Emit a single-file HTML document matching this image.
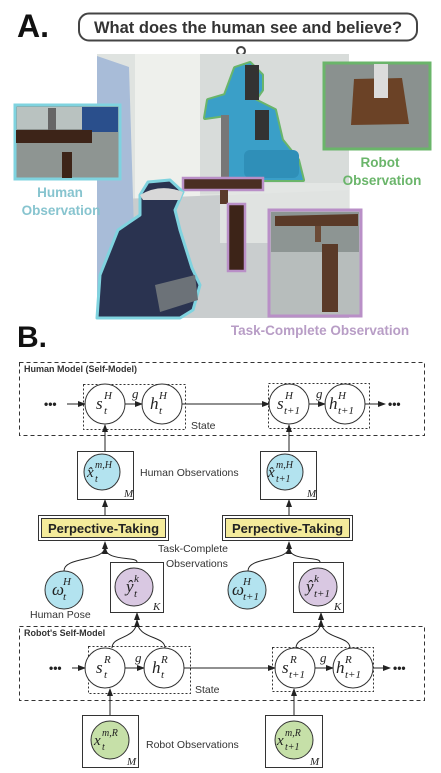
<!DOCTYPE html>
<html><head><meta charset="utf-8"><style>
html,body{margin:0;padding:0;background:#fff;}
svg{display:block;}
.sf{font-family:"Liberation Sans",sans-serif;}
.m{font-family:"Liberation Serif",serif;font-style:italic;}
</style></head><body>
<svg width="441" height="773" viewBox="0 0 441 773" xmlns="http://www.w3.org/2000/svg">
<defs>
<marker id="ar" markerWidth="8" markerHeight="6" refX="7" refY="3" orient="auto" markerUnits="userSpaceOnUse"><path d="M0,0 L8,3 L0,6 Z" fill="#222"/></marker>
</defs>
<!-- Part A -->
<text x="17" y="37" class="sf" font-size="32" font-weight="bold" fill="#111">A.</text>
<rect x="79" y="13.5" width="338" height="27" rx="10" fill="#fff" stroke="#444" stroke-width="2"/>
<text x="248" y="33" class="sf" font-size="16.5" font-weight="bold" fill="#333" text-anchor="middle">What does the human see and believe?</text>
<circle cx="241" cy="51" r="4" fill="none" stroke="#444" stroke-width="2"/>
<rect x="97" y="54" width="252" height="264" fill="#dfe3e0"/>
<rect x="135" y="54" width="65" height="200" fill="#eef0ec"/>
<rect x="200" y="54" width="149" height="140" fill="#d8dcda"/>
<polygon points="97,200 349,190 349,318 97,318" fill="#c9cdce"/>
<polygon points="97,56 129,67 136,296 97,318" fill="#a8bcd8"/>
<rect x="220" y="183" width="130" height="60" fill="#e6e8e6" opacity="0.8"/>
<path d="M225,180 L226,115 L205,118 L208,100 L225,95 L235,68 L250,63 L262,75 L262,90 L255,100 L275,110 L282,140 L298,160 L303,180 Z" fill="none" stroke="#6ab56a" stroke-width="4" stroke-linejoin="round"/>
<path d="M225,180 L226,115 L205,118 L208,100 L225,95 L235,68 L250,63 L262,75 L262,90 L255,100 L275,110 L282,140 L298,160 L303,180 Z" fill="#3a9fc8"/>
<rect x="221" y="115" width="8" height="63" fill="#777"/>
<rect x="244" y="150" width="55" height="28" rx="6" fill="#2f8fb8"/>
<rect x="245" y="65" width="14" height="35" fill="#333"/>
<rect x="255" y="110" width="14" height="30" fill="#333"/>
<polygon points="183,178 263,178 263,190 183,190" fill="#4a2e22" stroke="#b98fc7" stroke-width="2.5"/>
<rect x="220" y="190" width="8" height="14" fill="#5a3a2a"/>
<rect x="228" y="204" width="17" height="67" fill="#3d2418" stroke="#b98fc7" stroke-width="2.5"/>
<path d="M97,318 L100,275 L118,230 L140,215 L140,195 L148,182 L170,180 L183,192 L175,210 L180,230 L192,268 L200,285 L193,310 L180,318 Z" fill="#2a3350" stroke="#7fd3df" stroke-width="3" stroke-linejoin="round"/>
<path d="M140,195 Q160,183 183,192 L180,200 L143,200 Z" fill="#d8d8d8"/>
<path d="M155,285 L195,275 L198,300 L160,312 Z" fill="#6c7278"/>
<rect x="15" y="105" width="105" height="74" fill="#8e9592" stroke="#7fd3df" stroke-width="3"/>
<rect x="17" y="107" width="101" height="22" fill="#b9c2c0"/>
<rect x="82" y="107" width="36" height="25" fill="#2a4f8c"/>
<rect x="16" y="130" width="76" height="13" fill="#3d2418"/>
<rect x="62" y="152" width="10" height="26" fill="#3d2418"/>
<rect x="48" y="108" width="8" height="22" fill="#666"/>
<text x="60" y="197" class="sf" font-size="13.5" font-weight="bold" fill="#87c4cf" text-anchor="middle">Human</text>
<text x="61" y="215" class="sf" font-size="13.5" font-weight="bold" fill="#87c4cf" text-anchor="middle">Observation</text>
<rect x="324" y="63" width="106" height="86" fill="#8a918f" stroke="#6ab56a" stroke-width="3"/>
<polygon points="354,79 402,78 409,124 351,125" fill="#6b4226"/>
<rect x="374" y="64" width="14" height="34" fill="#dcdcdc"/>
<text x="380" y="167" class="sf" font-size="13.5" font-weight="bold" fill="#6ab56a" text-anchor="middle">Robot</text>
<text x="382" y="185" class="sf" font-size="13.5" font-weight="bold" fill="#6ab56a" text-anchor="middle">Observation</text>
<rect x="269" y="210" width="92" height="106" fill="#b7bdbc" stroke="#b98fc7" stroke-width="3"/>
<rect x="271" y="212" width="88" height="40" fill="#8d9593"/>
<polygon points="275,216 358,214 358,226 275,226" fill="#5a3a28"/>
<rect x="315" y="226" width="6" height="16" fill="#6b4a36"/>
<rect x="322" y="244" width="16" height="68" fill="#5a3a28"/>
<text x="320" y="335" class="sf" font-size="13.5" font-weight="bold" fill="#b89dc6" text-anchor="middle">Task-Complete Observation</text>

<!-- Part B -->
<text x="17" y="347" class="sf" font-size="30" font-weight="bold" fill="#111">B.</text>
<g fill="none" stroke="#333" stroke-width="1">
<rect x="19.5" y="362.5" width="405" height="73" stroke-dasharray="4,3"/>
<rect x="83.5" y="384.5" width="102" height="45" stroke-dasharray="2,2"/>
<rect x="268.5" y="383.5" width="101" height="45" stroke-dasharray="2,2"/>
<rect x="19.5" y="626.5" width="405" height="74" stroke-dasharray="4,3"/>
<rect x="88.5" y="646.5" width="102" height="47" stroke-dasharray="2,2"/>
<rect x="272.5" y="647.5" width="101" height="44" stroke-dasharray="2,2"/>
</g>
<text x="24" y="372" class="sf" font-size="9" font-weight="bold" fill="#333">Human Model (Self-Model)</text>
<text x="24" y="636" class="sf" font-size="9" font-weight="bold" fill="#333">Robot's Self-Model</text>
<g stroke="#333" stroke-width="1">
<circle cx="105" cy="404" r="20" fill="#fff"/>
<circle cx="162" cy="404" r="20" fill="#fff"/>
<circle cx="289" cy="404" r="20" fill="#fff"/>
<circle cx="345" cy="404" r="20" fill="#fff"/>
<circle cx="105" cy="668" r="20" fill="#fff"/>
<circle cx="164" cy="668" r="20" fill="#fff"/>
<circle cx="295" cy="668" r="20" fill="#fff"/>
<circle cx="353" cy="668" r="20" fill="#fff"/>
<rect x="77.5" y="451.5" width="56" height="48" fill="#fff"/>
<rect x="260.5" y="451.5" width="56" height="48" fill="#fff"/>
<circle cx="102" cy="472" r="18" fill="#b3e3ef"/>
<circle cx="285" cy="472" r="18" fill="#b3e3ef"/>
<circle cx="64" cy="590" r="19" fill="#b3e3ef"/>
<circle cx="247" cy="590" r="19" fill="#b3e3ef"/>
<rect x="110.5" y="562.5" width="53" height="50" fill="#fff"/>
<rect x="293.5" y="562.5" width="50" height="50" fill="#fff"/>
<circle cx="134" cy="587" r="19" fill="#d9c8e2"/>
<circle cx="318" cy="587" r="19" fill="#d9c8e2"/>
<rect x="82.5" y="715.5" width="56" height="52" fill="#fff"/>
<rect x="265.5" y="715.5" width="57" height="52" fill="#fff"/>
<circle cx="110" cy="740" r="19" fill="#c6e0a8"/>
<circle cx="294" cy="740" r="19" fill="#c6e0a8"/>
</g>
<g stroke="#222" stroke-width="1" fill="none" marker-end="url(#ar)">
<line x1="67" y1="404" x2="85" y2="404"/>
<line x1="125" y1="404" x2="142" y2="404"/>
<line x1="182" y1="404" x2="269" y2="404"/>
<line x1="309" y1="404" x2="325" y2="404"/>
<line x1="365" y1="404" x2="385" y2="404"/>
<line x1="105" y1="451" x2="105" y2="425"/>
<line x1="289" y1="451" x2="289" y2="425"/>
<line x1="105" y1="515" x2="105" y2="500"/>
<line x1="289" y1="515" x2="289" y2="500"/>
<line x1="72" y1="668" x2="85" y2="668"/>
<line x1="125" y1="668" x2="144" y2="668"/>
<line x1="184" y1="668" x2="275" y2="668"/>
<line x1="315" y1="668" x2="333" y2="668"/>
<line x1="373" y1="668" x2="390" y2="668"/>
<line x1="110" y1="715" x2="110" y2="689"/>
<line x1="294" y1="715" x2="294" y2="689"/>
<path d="M112,648 C112,635 137,640 137,620 L137,613"/>
<path d="M165,648 C165,635 137,640 137,620"/>
<path d="M296,648 C296,635 321,640 321,620 L321,613"/>
<path d="M350,648 C350,635 321,640 321,620"/>
<path d="M64,571 C64,556 105,562 105,547 L105,542"/>
<path d="M137,562 C137,556 105,562 105,547"/>
<path d="M248,571 C248,556 289,562 289,547 L289,542"/>
<path d="M320,562 C320,556 289,562 289,547"/>
</g>
<g fill="#222">
<text x="44" y="408" class="sf" font-size="12" font-weight="bold">•••</text>
<text x="388" y="408" class="sf" font-size="12" font-weight="bold">•••</text>
<text x="49" y="672" class="sf" font-size="12" font-weight="bold">•••</text>
<text x="393" y="672" class="sf" font-size="12" font-weight="bold">•••</text>
</g>
<rect x="38.5" y="515.5" width="130" height="25" fill="#fff" stroke="#333" stroke-width="1"/>
<rect x="41.5" y="518.5" width="124" height="19" fill="#f4eb9b" stroke="#333" stroke-width="1"/>
<text x="103.5" y="533" class="sf" font-size="13" font-weight="bold" fill="#222" text-anchor="middle">Perpective-Taking</text>
<rect x="222.5" y="515.5" width="130" height="25" fill="#fff" stroke="#333" stroke-width="1"/>
<rect x="225.5" y="518.5" width="124" height="19" fill="#f4eb9b" stroke="#333" stroke-width="1"/>
<text x="287.5" y="533" class="sf" font-size="13" font-weight="bold" fill="#222" text-anchor="middle">Perpective-Taking</text>
<g class="sf" font-size="10.5" fill="#333">
<text x="191" y="429">State</text>
<text x="195" y="693">State</text>
<text x="140" y="476">Human Observations</text>
<text x="158" y="552">Task-Complete</text>
<text x="166" y="567">Observations</text>
<text x="30" y="618">Human Pose</text>
<text x="146" y="748">Robot Observations</text>
</g>
<g class="m" fill="#222">
<text x="132" y="398" font-size="13">g</text>
<text x="316" y="398" font-size="13">g</text>
<text x="135" y="662" font-size="13">g</text>
<text x="320" y="662" font-size="13">g</text>
<!-- human states -->
<text x="96" y="409" font-size="17">s</text><text x="104" y="399" font-size="11">H</text><text x="104" y="414" font-size="11">t</text>
<text x="150" y="409" font-size="17">h</text><text x="159" y="399" font-size="11">H</text><text x="159" y="414" font-size="11">t</text>
<text x="277" y="409" font-size="17">s</text><text x="285" y="399" font-size="11">H</text><text x="284" y="414" font-size="11">t+1</text>
<text x="329" y="409" font-size="17">h</text><text x="338" y="399" font-size="11">H</text><text x="338" y="414" font-size="11">t+1</text>
<!-- robot states -->
<text x="96" y="673" font-size="17">s</text><text x="104" y="663" font-size="11">R</text><text x="104" y="678" font-size="11">t</text>
<text x="152" y="673" font-size="17">h</text><text x="161" y="663" font-size="11">R</text><text x="161" y="678" font-size="11">t</text>
<text x="282" y="673" font-size="17">s</text><text x="290" y="663" font-size="11">R</text><text x="289" y="678" font-size="11">t+1</text>
<text x="336" y="673" font-size="17">h</text><text x="345" y="663" font-size="11">R</text><text x="345" y="678" font-size="11">t+1</text>
<!-- human obs -->
<text x="87" y="477" font-size="15">x̂</text><text x="95" y="468" font-size="10">m,H</text><text x="95" y="482" font-size="10">t</text>
<text x="268" y="477" font-size="15">x̂</text><text x="276" y="468" font-size="10">m,H</text><text x="276" y="482" font-size="10">t+1</text>
<text x="124" y="497" font-size="11">M</text>
<text x="307" y="497" font-size="11">M</text>
<!-- poses -->
<text x="52" y="595" font-size="17">ω</text><text x="63" y="585" font-size="11">H</text><text x="63" y="600" font-size="11">t</text>
<text x="232" y="595" font-size="17">ω</text><text x="243" y="585" font-size="11">H</text><text x="243" y="600" font-size="11">t+1</text>
<!-- task complete -->
<text x="126" y="592" font-size="17">ŷ</text><text x="134" y="582" font-size="11">k</text><text x="134" y="597" font-size="11">t</text>
<text x="306" y="592" font-size="17">ŷ</text><text x="314" y="582" font-size="11">k</text><text x="314" y="597" font-size="11">t+1</text>
<text x="153" y="610" font-size="11">K</text>
<text x="334" y="610" font-size="11">K</text>
<!-- robot obs -->
<text x="94" y="745" font-size="15">x</text><text x="102" y="736" font-size="10">m,R</text><text x="102" y="750" font-size="10">t</text>
<text x="277" y="745" font-size="15">x</text><text x="285" y="736" font-size="10">m,R</text><text x="285" y="750" font-size="10">t+1</text>
<text x="127" y="765" font-size="11">M</text>
<text x="310" y="765" font-size="11">M</text>
</g>
</svg>
</body></html>
